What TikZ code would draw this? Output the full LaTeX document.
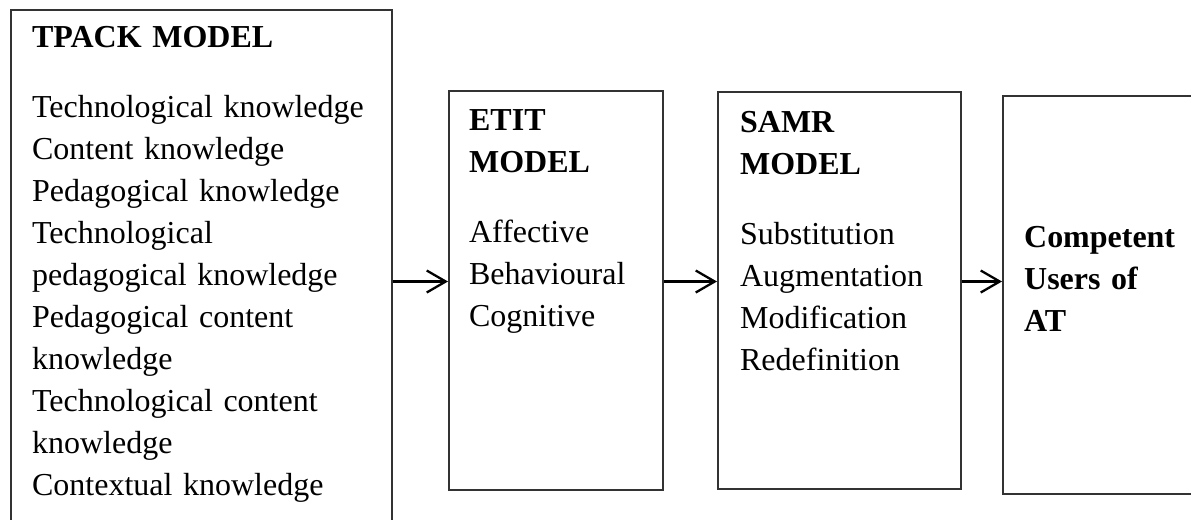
\documentclass[tikz,border=0pt]{standalone}
\usepackage{fontspec}
\setmainfont{Liberation Serif}
\usetikzlibrary{arrows.meta}

\begin{document}
\begin{tikzpicture}[auto,line width=1.3pt, >={Straight Barb[length=3.8mm,width=4.4mm]},
    box/.style={draw=black!80,line width=1.1pt,anchor=north west,inner sep=0pt},
    txt/.style={anchor=base west,inner sep=0pt,align=left,text width=#1,
        font=\fontsize{18.2}{23.9}\selectfont}]
\path[use as bounding box,clip] (0,0) rectangle (23.82,-10.38);
\draw
    node at (0.2,-0.18)[box,minimum width=7.62cm,minimum height=10.8cm,name=tpack]{}
    node at (8.96,-1.80)[box,minimum width=4.28cm,minimum height=7.98cm,name=etit]{}
    node at (14.34,-1.82)[box,minimum width=4.86cm,minimum height=7.94cm,name=samr]{}
    node at (20.04,-1.90)[box,minimum width=4.6cm,minimum height=7.96cm,name=users]{}

    node at (0.62,-0.94)[txt=7cm,name=tpackt]{\textbf{TPACK MODEL}\\[0.56cm]
        Technological knowledge\\ Content knowledge\\ Pedagogical knowledge\\
        Technological\\ pedagogical knowledge\\ Pedagogical content\\ knowledge\\
        Technological content\\ knowledge\\ Contextual knowledge}
    node at (9.36,-2.60)[txt=3.8cm,name=etitt]{\textbf{ETIT}\\ \textbf{MODEL}\\[0.56cm]
        Affective\\ Behavioural\\ Cognitive}
    node at (14.78,-2.64)[txt=4.3cm,name=samrt]{\textbf{SAMR}\\ \textbf{MODEL}\\[0.56cm]
        Substitution\\ Augmentation\\ Modification\\ Redefinition}
    node at (20.46,-4.94)[txt=3.4cm,name=userst]{\textbf{Competent}\\ \textbf{Users of}\\ \textbf{AT}}
;
    \coordinate (lvl) at (0,-5.63);
    \draw[->](tpack.east |- lvl) -- (etit.west |- lvl);
    \draw[->](etit.east |- lvl) -- (samr.west |- lvl);
    \draw[->](samr.east |- lvl) -- (users.west |- lvl);
\end{tikzpicture}
\end{document}
